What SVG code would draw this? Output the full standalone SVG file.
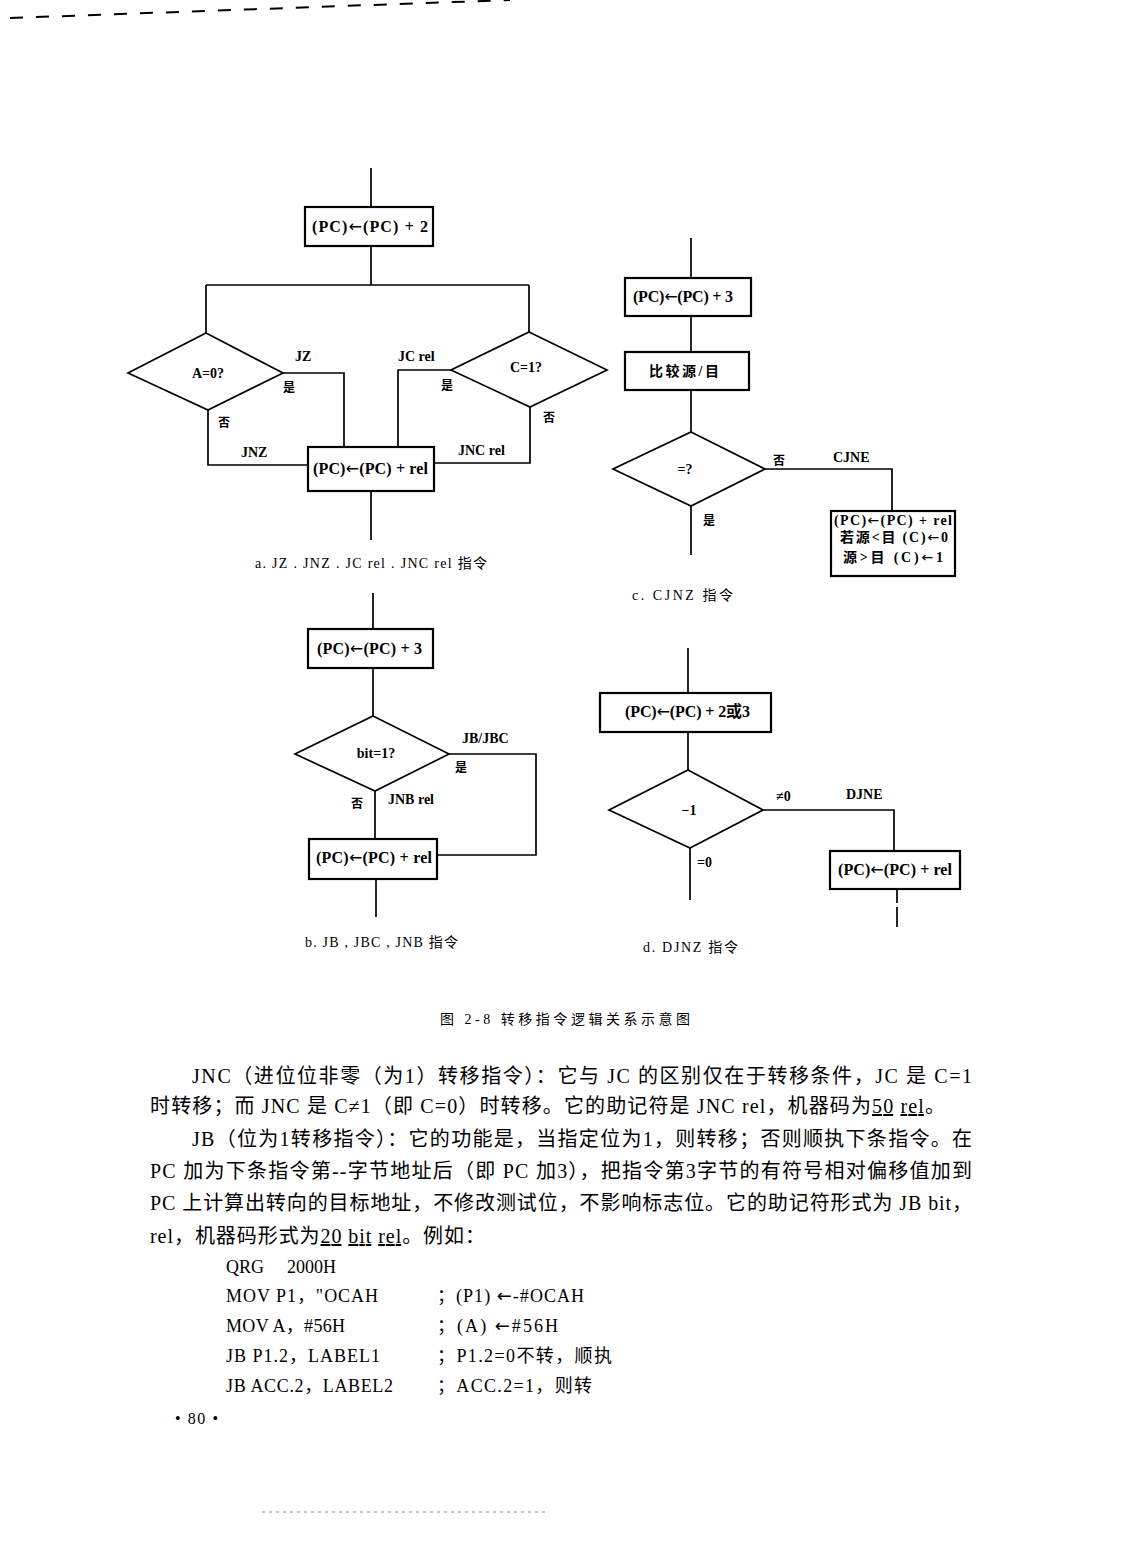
<svg xmlns="http://www.w3.org/2000/svg" width="1122" height="1568" viewBox="0 0 1122 1568">
<style>
.box{fill:none;stroke:#000;stroke-width:2.2}
.dia{fill:none;stroke:#000;stroke-width:1.7}
.c{fill:none;stroke:#000;stroke-width:1.7}
text{font-family:"Liberation Serif","Noto Sans CJK SC",serif;fill:#000}
.ar{font-family:"DejaVu Sans",sans-serif;font-weight:normal}
.bt{font-size:16px;font-weight:bold}
.lb{font-size:14px;font-weight:bold}
.cn{font-size:12px;font-weight:bold}
.cap{font-size:14px}
.body{font-size:20px}
.code{font-size:18px}
</style>
<rect width="1122" height="1568" fill="#fff"/>
<line x1="10" y1="18" x2="510" y2="0" stroke="#000" stroke-width="2" stroke-dasharray="13 13"/>
<line x1="262" y1="1512" x2="545" y2="1512" stroke="#888" stroke-width="1" stroke-dasharray="3 4"/>

<!-- Diagram a -->
<g id="connectors-a">
<path class="c" d="M371 168V207M371 246V285M206 285H529M206 285V333M529 285V332"/>
<path class="c" d="M283 373H344V447"/>
<path class="c" d="M208 410V465H308"/>
<path class="c" d="M451 370H398V447"/>
<path class="c" d="M530 407V463H434"/>
<path class="c" d="M371 491V540"/>
</g>
<g id="a-box1"><rect class="box" x="305" y="207" width="128" height="39"/><text class="bt" x="312" y="232" textLength="116">(PC)<tspan class="ar">←</tspan>(PC) + 2</text></g>
<g id="a-dia1"><polygon class="dia" points="206,333 283,373 208,410 128,373"/><text class="lb" x="208" y="378" text-anchor="middle" font-weight="normal">A=0?</text></g>
<g id="a-dia2"><polygon class="dia" points="529,332 607,370 530,407 451,370"/><text class="lb" x="526" y="372" text-anchor="middle" font-weight="normal">C=1?</text></g>
<g id="a-box2"><rect class="box" x="308" y="447" width="126" height="44"/><text class="bt" x="313" y="474" textLength="115">(PC)<tspan class="ar">←</tspan>(PC) + rel</text></g>
<g id="a-labels">
<text class="lb" x="295" y="361">JZ</text>
<text class="cn" x="283" y="392">是</text>
<text class="cn" x="218" y="427">否</text>
<text class="lb" x="241" y="457">JNZ</text>
<text class="lb" x="398" y="361">JC  rel</text>
<text class="cn" x="441" y="390">是</text>
<text class="cn" x="543" y="422">否</text>
<text class="lb" x="458" y="455">JNC  rel</text>
<text class="cap" x="255" y="568" textLength="232">a. JZ . JNZ . JC rel . JNC rel 指令</text>
</g>

<!-- Diagram c -->
<g id="connectors-c">
<path class="c" d="M691 238V278M691 316V352M691 390V432"/>
<path class="c" d="M765 469H892V511"/>
<path class="c" d="M691 506V555"/>
</g>
<g id="c-box1"><rect class="box" x="625" y="278" width="126" height="38"/><text class="bt" x="633" y="302" textLength="100">(PC)<tspan class="ar">←</tspan>(PC) + 3</text></g>
<g id="c-box2"><rect class="box" x="625" y="352" width="124" height="38"/><text class="bt" x="649" y="376" textLength="70" style="font-size:14px">比较源/目</text></g>
<g id="c-dia"><polygon class="dia" points="691,432 765,469 691,506 613,469"/><text class="lb" x="685" y="474" text-anchor="middle" font-weight="normal">=?</text></g>
<g id="c-box3"><rect class="box" x="831" y="511" width="124" height="65"/>
<text class="bt" x="834" y="525" textLength="118" style="font-size:14px">(PC)<tspan class="ar">←</tspan>(PC) + rel</text>
<text class="bt" x="840" y="542" textLength="108" style="font-size:14px">若源&lt;目 (C)<tspan class="ar">←</tspan>0</text>
<text class="bt" x="843" y="562" textLength="100" style="font-size:14px">源&gt;目 (C)<tspan class="ar">←</tspan>1</text></g>
<g id="c-labels">
<text class="cn" x="773" y="465">否</text>
<text class="lb" x="833" y="462">CJNE</text>
<text class="cn" x="703" y="525">是</text>
<text class="cap" x="632" y="600" textLength="101">c.  CJNZ 指令</text>
</g>

<!-- Diagram b -->
<g id="connectors-b">
<path class="c" d="M373 593V629M373 668V716"/>
<path class="c" d="M449 754H536V855H437"/>
<path class="c" d="M375 791V839"/>
<path class="c" d="M376 879V917"/>
</g>
<g id="b-box1"><rect class="box" x="308" y="629" width="125" height="39"/><text class="bt" x="317" y="654" textLength="105">(PC)<tspan class="ar">←</tspan>(PC) + 3</text></g>
<g id="b-dia"><polygon class="dia" points="373,716 449,754 375,791 295,754"/><text class="lb" x="376" y="758" text-anchor="middle" font-weight="normal">bit=1?</text></g>
<g id="b-box2"><rect class="box" x="309" y="839" width="128" height="40"/><text class="bt" x="316" y="863" textLength="116">(PC)<tspan class="ar">←</tspan>(PC) + rel</text></g>
<g id="b-labels">
<text class="lb" x="462" y="743">JB/JBC</text>
<text class="cn" x="455" y="772">是</text>
<text class="cn" x="351" y="808">否</text>
<text class="lb" x="388" y="804">JNB  rel</text>
<text class="cap" x="305" y="947" textLength="153">b. JB , JBC , JNB 指令</text>
</g>

<!-- Diagram d -->
<g id="connectors-d">
<path class="c" d="M688 648V693M688 732V770"/>
<path class="c" d="M763 810H894V851"/>
<path class="c" d="M690 848V900"/>
<path class="c" d="M897 889V933" stroke-dasharray="14 4 20 6"/>
</g>
<g id="d-box1"><rect class="box" x="600" y="693" width="171" height="39"/><text class="bt" x="625" y="717" textLength="125">(PC)<tspan class="ar">←</tspan>(PC) + 2或3</text></g>
<g id="d-dia"><polygon class="dia" points="688,770 763,810 690,848 609,810"/><text class="lb" x="689" y="815" text-anchor="middle" font-weight="normal">−1</text></g>
<g id="d-box2"><rect class="box" x="830" y="851" width="130" height="38"/><text class="bt" x="838" y="875" textLength="114">(PC)<tspan class="ar">←</tspan>(PC) + rel</text></g>
<g id="d-labels">
<text class="lb" x="776" y="801" font-weight="normal">≠0</text>
<text class="lb" x="846" y="799">DJNE</text>
<text class="lb" x="697" y="867" font-weight="normal">=0</text>
<text class="cap" x="643" y="952" textLength="95">d. DJNZ 指令</text>
</g>

<!-- Caption and body -->
<g id="page-text">
<text class="cap" x="440" y="1024" textLength="250">图 2-8   转移指令逻辑关系示意图</text>
<text class="body" x="192" y="1083" textLength="780">JNC（进位位非零（为1）转移指令）：它与 JC 的区别仅在于转移条件，JC 是 C=1</text>
<text class="body" x="150" y="1113" textLength="795">时转移；而 JNC 是 C≠1（即 C=0）时转移。它的助记符是 JNC rel，机器码为<tspan text-decoration="underline">50</tspan> <tspan text-decoration="underline">rel</tspan>。</text>
<text class="body" x="192" y="1146" textLength="780">JB（位为1转移指令）：它的功能是，当指定位为1，则转移；否则顺执下条指令。在</text>
<text class="body" x="150" y="1178" textLength="822">PC 加为下条指令第--字节地址后（即 PC 加3），把指令第3字节的有符号相对偏移值加到</text>
<text class="body" x="150" y="1210" textLength="822">PC 上计算出转向的目标地址，不修改测试位，不影响标志位。它的助记符形式为 JB bit，</text>
<text class="body" x="150" y="1243" textLength="335">rel，机器码形式为<tspan text-decoration="underline">20</tspan> <tspan text-decoration="underline">bit</tspan> <tspan text-decoration="underline">rel</tspan>。例如：</text>
<text class="code" x="226" y="1273">QRG<tspan x="287">2000H</tspan></text>
<text class="code" x="226" y="1302" textLength="152">MOV P1，"OCAH</text>
<text class="code" x="437" y="1302" textLength="147">；(P1) <tspan class="ar">←</tspan>-#OCAH</text>
<text class="code" x="226" y="1332" textLength="119">MOV A，#56H</text>
<text class="code" x="437" y="1332" textLength="121">；(A) <tspan class="ar">←</tspan>#56H</text>
<text class="code" x="226" y="1362" textLength="154">JB P1.2，LABEL1</text>
<text class="code" x="437" y="1362" textLength="175">；P1.2=0不转，顺执</text>
<text class="code" x="226" y="1392" textLength="167">JB ACC.2，LABEL2</text>
<text class="code" x="437" y="1392" textLength="155">；ACC.2=1，则转</text>
<text class="code" x="175" y="1424" textLength="43" style="font-size:16px">• 80 •</text>
</g>
</svg>
